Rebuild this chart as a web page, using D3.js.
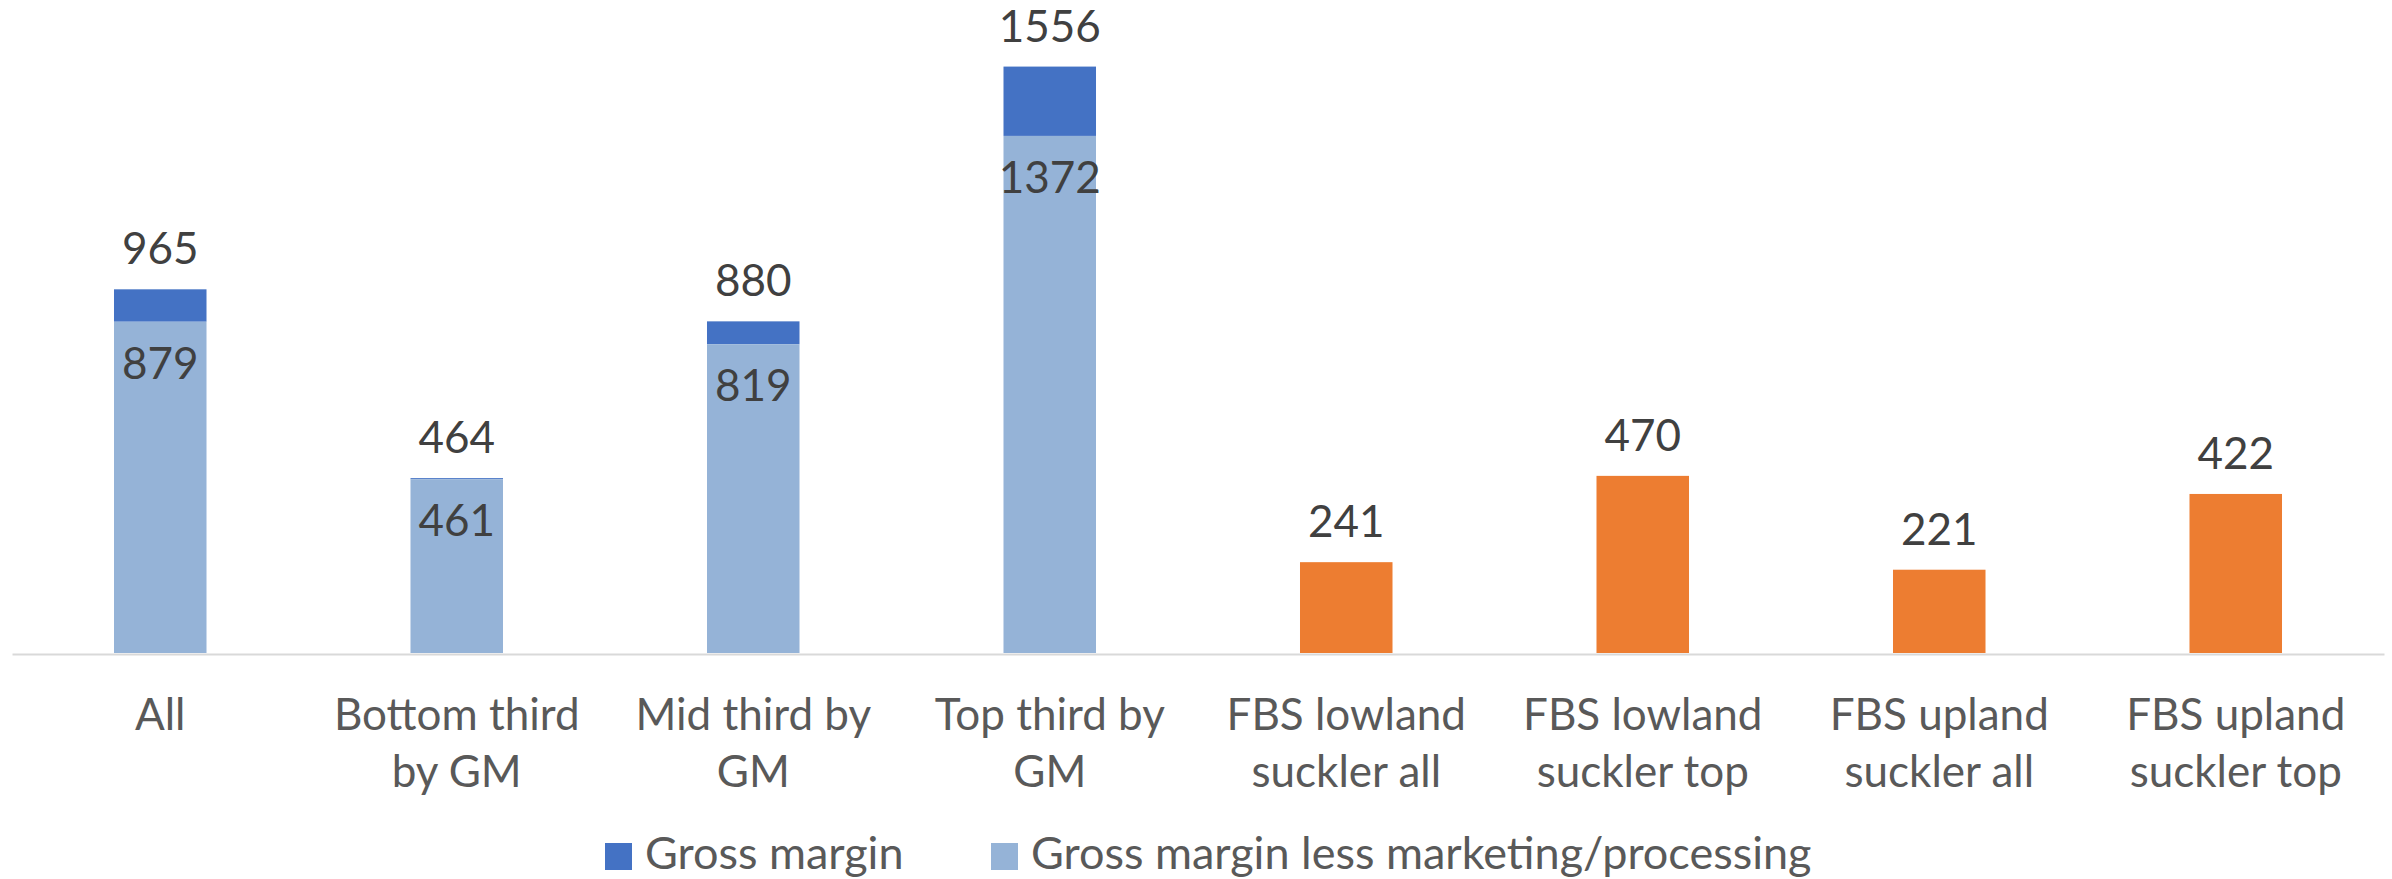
<!DOCTYPE html>
<html>
<head>
<meta charset="utf-8">
<script src="https://cdn.jsdelivr.net/npm/d3@7"></script>
<style>
  body { margin: 0; background: #fff; }
  svg { display: block; font-family: Lato, 'Open Sans', sans-serif; }
</style>
</head>
<body>
<svg></svg>
<script>
'use strict';

const svgWidth = 2392;
const svgHeight = 879;

// data
const categories = [
  'All', 'Bottom third\nby GM', 'Mid third by\nGM', 'Top third by\nGM',
  'FBS lowland\nsuckler all', 'FBS lowland\nsuckler top',
  'FBS upland\nsuckler all', 'FBS upland\nsuckler top'
];
const grossMargin = [965, 464, 880, 1556, null, null, null, null];
const lessMarketing = [879, 461, 819, 1372, null, null, null, null];
const fbsMargin = [null, null, null, null, 241, 470, 221, 422];
const legendLabels = ['Gross margin', 'Gross margin less marketing/processing'];

const colDark = '#4472C4';
const colLight = '#95B3D7';
const colOrange = '#ED7D31';

const svg = d3.select('svg')
  .attr('width', svgWidth)
  .attr('height', svgHeight);

const x = d3.scaleBand()
  .domain(categories)
  .range([12, 2384])
  .paddingInner(0.688)
  .paddingOuter(0.344);

const y = d3.scaleLinear()
  .domain([0, 1600])
  .range([653, 50]);

const idx = categories.map((c, i) => i);

// gross margin (total) behind the lighter segment
svg.append('g')
  .selectAll('rect')
  .data(idx.filter(i => grossMargin[i] != null))
  .join('rect')
  .attr('x', i => x(categories[i]))
  .attr('width', x.bandwidth())
  .attr('y', i => y(grossMargin[i]))
  .attr('height', i => y(lessMarketing[i]) - y(grossMargin[i]))
  .attr('fill', colDark);

svg.append('g')
  .selectAll('rect')
  .data(idx.filter(i => lessMarketing[i] != null))
  .join('rect')
  .attr('x', i => x(categories[i]))
  .attr('width', x.bandwidth())
  .attr('y', i => y(lessMarketing[i]))
  .attr('height', i => y(0) - y(lessMarketing[i]))
  .attr('fill', colLight);

svg.append('g')
  .selectAll('rect')
  .data(idx.filter(i => fbsMargin[i] != null))
  .join('rect')
  .attr('x', i => x(categories[i]))
  .attr('width', x.bandwidth())
  .attr('y', i => y(fbsMargin[i]))
  .attr('height', i => y(0) - y(fbsMargin[i]))
  .attr('fill', colOrange);

// x axis
const xAxis = svg.append('g')
  .attr('transform', `translate(0, ${y(0) + 1})`)
  .call(d3.axisBottom(x).tickSize(0).tickPadding(0));

xAxis.select('.domain')
  .attr('stroke', '#d9d9d9')
  .attr('stroke-width', 2);

xAxis.selectAll('.tick text')
  .attr('fill', '#595959')
  .attr('font-size', 44)
  .attr('font-family', 'Lato, sans-serif')
  .attr('dy', null)
  .each(function(d) {
    const t = d3.select(this);
    t.text(null);
    d.split('\n').forEach((line, k) => {
      t.append('tspan')
        .attr('x', 0)
        .attr('y', 76 + k * 57)
        .text(line);
    });
  });

// value labels
const labels = svg.append('g')
  .attr('fill', '#404040')
  .attr('font-size', 44)
  .attr('text-anchor', 'middle');

idx.forEach(i => {
  const cx = x(categories[i]) + x.bandwidth() / 2;
  const top = grossMargin[i] != null ? grossMargin[i] : fbsMargin[i];
  labels.append('text')
    .attr('x', cx)
    .attr('y', y(top) - 25)
    .text(top);
  if (lessMarketing[i] != null) {
    labels.append('text')
      .attr('x', cx)
      .attr('y', y(lessMarketing[i]) + 57)
      .text(lessMarketing[i]);
  }
});

// legend
const legend = svg.append('g');
const legendX = [605, 991];
[colDark, colLight].forEach((c, k) => {
  legend.append('rect')
    .attr('x', legendX[k])
    .attr('y', 843)
    .attr('width', 27)
    .attr('height', 27)
    .attr('fill', c);
  legend.append('text')
    .attr('x', legendX[k] + 40)
    .attr('y', 869)
    .attr('fill', '#595959')
    .attr('font-size', 45)
    .text(legendLabels[k]);
});
</script>
</body>
</html>
